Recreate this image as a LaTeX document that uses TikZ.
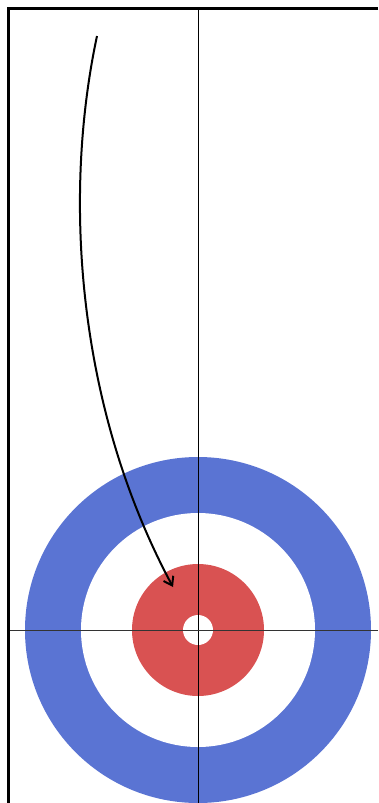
\documentclass[tikz,border=0pt]{standalone}
\usetikzlibrary{arrows.meta}
\definecolor{houseblue}{HTML}{5A74D3}
\definecolor{housered}{HTML}{D95252}
\begin{document}
\begin{tikzpicture}[x=1pt, y=-1pt,
    sheetline/.style={line width=0.9pt, black},
    edgeline/.style={line width=3pt, black}]
    \useasboundingbox (0,0) rectangle (378,803);
    \fill[white] (0,0) rectangle (378,803);

    % house
    \coordinate (tee) at (198,630);
    \fill[houseblue] (tee) circle[radius=173pt];
    \fill[white] (tee) circle[radius=117pt];
    \fill[housered] (tee) circle[radius=66pt];
    \fill[white] (tee) circle[radius=15pt];

    % sheet lines
    \draw[edgeline] (378,8.5) -- (8.5,8.5) -- (8.5,803);
    \draw[sheetline] (198,10) -- (198,803);
    \draw[sheetline, black!80] (10,630) -- (378,630);

    % stone path
    \coordinate (release) at (97,36);
    \coordinate (stop) at (173,587);
    \draw[line width=2pt, -{Straight Barb[length=8pt, width=11pt]}]
        (release) .. controls (62,200) and (78,410) .. (stop);
\end{tikzpicture}
\end{document}
